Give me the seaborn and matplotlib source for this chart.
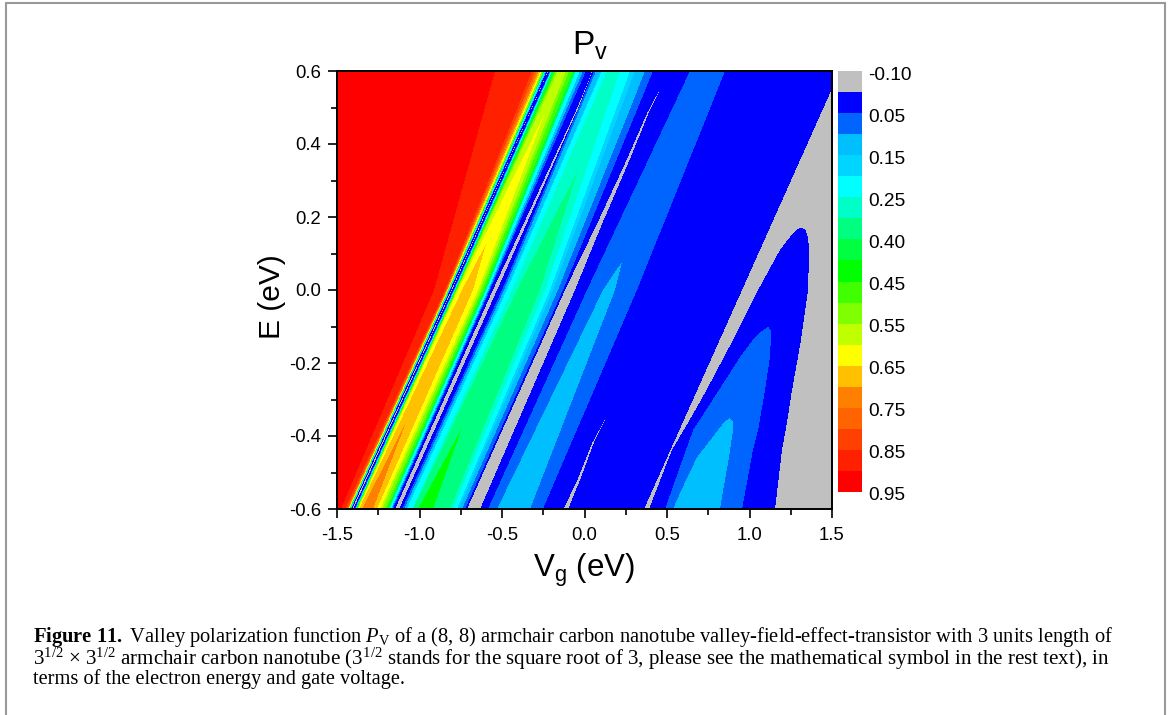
#!/usr/bin/env python
# -*- coding: utf-8 -*-

"""Valley polarization map P_v(Vg, E) drawn as a discrete heatmap with seaborn."""

import numpy as np
import matplotlib
matplotlib.use("Agg")
import matplotlib.pyplot as plt
from matplotlib.colors import ListedColormap
from matplotlib.lines import Line2D
from matplotlib.transforms import ScaledTranslation
import seaborn as sns

# ============ Data ============

VG_TICKS = [-1.5, -1.0, -0.5, 0.0, 0.5, 1.0, 1.5]
VG_MINOR = [-1.25, -0.75, -0.25, 0.25, 0.75, 1.25]
E_TICKS = [-0.6, -0.4, -0.2, 0.0, 0.2, 0.4, 0.6]
E_MINOR = [-0.5, -0.3, -0.1, 0.1, 0.3, 0.5]
CBAR_LABELS = ["-0.10", "0.05", "0.15", "0.25", "0.40", "0.45",
               "0.55", "0.65", "0.75", "0.85", "0.95"]

# one colour per contour level, gray (lowest) to red (highest)
LEVEL_COLORS = ["#C0C0C0", "#0000FF", "#0064FF", "#00BFFF", "#00D5FF",
                "#00FFFF", "#00FFC8", "#00FF80", "#00FF40", "#00FF00",
                "#40FF00", "#80FF00", "#C0FF00", "#FFFF00", "#FFC000",
                "#FF8000", "#FF6400", "#FF4000", "#FF2000", "#FF0000"]

# E rows shared by the straight bands
E_ROWS = [-0.6, 0.0, 0.6]

# contour fronts: everything right of the front has at most this level
FRONT_LEVELS = [18, 17, 16, 15, 14, 13, 11, 8, 5, 3, 1]
FRONT_VG = [[-1.476, -0.912, -0.542],
            [-1.452, -0.845, -0.318],
            [-1.442, -0.839, -0.300],
            [-1.436, -0.836, -0.288],
            [-1.433, -0.833, -0.276],
            [-1.430, -0.830, -0.267],
            [-1.427, -0.827, -0.258],
            [-1.424, -0.824, -0.248],
            [-1.421, -0.821, -0.242],
            [-1.418, -0.818, -0.236],
            [-1.415, -0.815, -0.230]]

# first ridge, between the narrow blue line and the thin gray line
RIDGE1_LEVELS = [2, 3, 5, 8, 10, 11, 12]
RIDGE1_LEFT = [[-1.394, -0.794, -0.209],
               [-1.391, -0.791, -0.206],
               [-1.388, -0.788, -0.203],
               [-1.385, -0.785, -0.197],
               [-1.382, -0.779, -0.179],
               [-1.379, -0.776, -0.173],
               [-1.376, -0.773, -0.161]]
RIDGE1_RIGHT = [[-1.161, -0.573, 0.009],
                [-1.167, -0.579, -0.009],
                [-1.173, -0.585, -0.027],
                [-1.185, -0.597, -0.052],
                [-1.197, -0.609, -0.070],
                [-1.209, -0.621, -0.094],
                [-1.227, -0.633, -0.112]]
YELLOW_E = [-0.6, 0.0, 0.485]
YELLOW_LEFT = [-1.373, -0.767, -0.239]
YELLOW_RIGHT = [-1.239, -0.645, -0.239]
AMBER_E = [-0.6, 0.0, 0.126]
AMBER_LEFT = [-1.367, -0.742, -0.597]
AMBER_RIGHT = [-1.258, -0.676, -0.597]
ORANGE_E = [-0.6, -0.362]
ORANGE_LEFT = [-1.348, -1.082]
ORANGE_RIGHT = [-1.282, -1.082]

# gray hairline inside the narrow blue line
HAIR_LEFT = [-1.409, -0.807, -0.221]
HAIR_RIGHT = [-1.402, -0.803, -0.220]

# thin gray line right of the first ridge
THIN_E = [-0.6, 0.0, 0.501, 0.575, 0.6]
THIN_LEFT = [-1.148, -0.555, -0.042, 0.026, 0.045]
THIN_RIGHT = [-1.124, -0.530, -0.036, 0.028, 0.047]

# second ridge
RIDGE2_LEVELS = [2, 3, 4, 5, 6]
RIDGE2_LEFT = [[-1.106, -0.500, 0.058],
               [-1.094, -0.488, 0.070],
               [-1.082, -0.476, 0.100],
               [-1.076, -0.470, 0.106],
               [-1.045, -0.439, 0.136]]
RIDGE2_RIGHT = [[-0.724, -0.130, 0.415],
                [-0.742, -0.161, 0.367],
                [-0.761, -0.191, 0.306],
                [-0.773, -0.209, 0.276],
                [-0.797, -0.239, 0.215]]
SPRING_E = [-0.6, 0.0, 0.329]
SPRING_LEFT = [-1.039, -0.409, -0.039]
SPRING_RIGHT = [-0.815, -0.270, -0.039]
GREEN_E = [-0.6, -0.378]
GREEN_LEFT = [-1.009, -0.742]
GREEN_RIGHT = [-0.918, -0.742]

# wedge of gray right of the second ridge
WEDGE_E = [-0.6, 0.0, 0.184, 0.356, 0.485, 0.545]
WEDGE_LEFT = [-0.712, -0.118, 0.079, 0.255, 0.380, 0.451]
WEDGE_RIGHT = [-0.633, -0.058, 0.109, 0.273, 0.389, 0.453]

# third ridge
BAND3_LEFT = [-0.585, 0.015, 0.639]
BAND3_RIGHT = [-0.252, 0.318, 0.852]
LOBE3_E = [-0.6, 0.0, 0.077]
LOBE3_LEFT = [-0.530, 0.112, 0.227]
LOBE3_RIGHT = [-0.330, 0.185, 0.227]

# short gray sliver in the blue area
SLIVER_E = [-0.6, -0.512, -0.419, -0.34]
SLIVER_LEFT = [-0.126, -0.035, 0.047, 0.142]
SLIVER_RIGHT = [-0.099, -0.020, 0.056, 0.143]

# gray region at the right and the blue pocket cut into it
GRAY_LEFT = [0.361, 0.955, 1.548]
POCKET_E = [-0.6, -0.438, -0.364, -0.282, -0.137, 0.0, 0.11, 0.145, 0.167, 0.17]
POCKET_LEFT = [0.391, 0.530, 0.627, 0.730, 0.900, 1.052, 1.185, 1.245, 1.288, 1.312]
POCKET_RIGHT = [1.155, 1.197, 1.227, 1.255, 1.312, 1.355, 1.361, 1.355, 1.336, 1.312]
POCKET2_E = [-0.6, -0.438, -0.384, -0.274, -0.184, -0.129, -0.110, -0.101]
POCKET2_LEFT = [0.488, 0.615, 0.658, 0.815, 0.942, 1.033, 1.082, 1.112]
POCKET2_RIGHT = [0.955, 1.021, 1.052, 1.094, 1.124, 1.130, 1.130, 1.112]
POCKET3_E = [-0.6, -0.521, -0.458, -0.384, -0.359, -0.351]
POCKET3_LEFT = [0.536, 0.615, 0.682, 0.809, 0.851, 0.882]
POCKET3_RIGHT = [0.821, 0.851, 0.876, 0.900, 0.900, 0.882]

CAPTION_1 = (r"$\mathbf{Figure\ 11.}$ Valley polarization function $\mathit{P}_{\mathrm{V}}$ of a (8, 8) "
             "armchair carbon nanotube valley-field-effect-transistor with 3 units length of")
CAPTION_2 = (r"3$^{1/2}$ $\times$ 3$^{1/2}$ armchair carbon nanotube (3$^{1/2}$ stands for the square root "
             "of 3, please see the mathematical symbol in the rest text), in")
CAPTION_3 = "terms of the electron energy and gate voltage."

# ============ Configuration ============

W_PX, H_PX = 1168, 715
N_COLS, N_ROWS = 495, 438
VG_MAX = 1.5
E_MAX = 0.6
SANS = "Liberation Sans"
SERIF = "Liberation Serif"

sns.set_theme(style="ticks", rc={
    "axes.edgecolor": "black",
    "xtick.color": "black",
    "ytick.color": "black",
    "text.color": "black",
})
plt.rcParams["font.family"] = [SANS, "DejaVu Sans"]
plt.rcParams["mathtext.fontset"] = "custom"
plt.rcParams["mathtext.rm"] = SERIF
plt.rcParams["mathtext.it"] = SERIF + ":italic"
plt.rcParams["mathtext.bf"] = SERIF + ":bold"
plt.rcParams["mathtext.default"] = "regular"

# ============ Helper Functions ============

VG_GRID = -VG_MAX + (np.arange(N_COLS) + 0.5) * 2 * VG_MAX / N_COLS
E_GRID = E_MAX - (np.arange(N_ROWS) + 0.5) * 2 * E_MAX / N_ROWS


def paint(grid, level, e_rows, left, right):
    """Set one contour level between two boundaries given along E."""
    left_at = np.interp(E_GRID, e_rows, left)[:, None]
    right_at = np.interp(E_GRID, e_rows, right)[:, None]
    inside = ((E_GRID >= e_rows[0]) & (E_GRID <= e_rows[-1]))[:, None]
    grid[(VG_GRID >= left_at) & (VG_GRID <= right_at) & inside] = level


def build_levels():
    """Paint the level map back to front."""
    grid = np.full((N_ROWS, N_COLS), 19)
    far_right = [VG_MAX + 0.1] * len(E_ROWS)

    for level, front in zip(FRONT_LEVELS, FRONT_VG):
        paint(grid, level, E_ROWS, front, far_right)
    paint(grid, 0, E_ROWS, HAIR_LEFT, HAIR_RIGHT)

    for level, left, right in zip(RIDGE1_LEVELS, RIDGE1_LEFT, RIDGE1_RIGHT):
        paint(grid, level, E_ROWS, left, right)
    paint(grid, 13, YELLOW_E, YELLOW_LEFT, YELLOW_RIGHT)
    paint(grid, 14, AMBER_E, AMBER_LEFT, AMBER_RIGHT)
    paint(grid, 15, ORANGE_E, ORANGE_LEFT, ORANGE_RIGHT)
    paint(grid, 0, THIN_E, THIN_LEFT, THIN_RIGHT)

    for level, left, right in zip(RIDGE2_LEVELS, RIDGE2_LEFT, RIDGE2_RIGHT):
        paint(grid, level, E_ROWS, left, right)
    paint(grid, 7, SPRING_E, SPRING_LEFT, SPRING_RIGHT)
    paint(grid, 9, GREEN_E, GREEN_LEFT, GREEN_RIGHT)
    paint(grid, 0, WEDGE_E, WEDGE_LEFT, WEDGE_RIGHT)

    paint(grid, 2, E_ROWS, BAND3_LEFT, BAND3_RIGHT)
    paint(grid, 3, LOBE3_E, LOBE3_LEFT, LOBE3_RIGHT)
    paint(grid, 0, SLIVER_E, SLIVER_LEFT, SLIVER_RIGHT)

    paint(grid, 0, E_ROWS, GRAY_LEFT, far_right)
    paint(grid, 1, POCKET_E, POCKET_LEFT, POCKET_RIGHT)
    paint(grid, 2, POCKET2_E, POCKET2_LEFT, POCKET2_RIGHT)
    paint(grid, 3, POCKET3_E, POCKET3_LEFT, POCKET3_RIGHT)
    return grid


def fig_xy(x_px, y_px):
    """Pixel position in the picture to figure fraction."""
    return x_px / W_PX, 1 - y_px / H_PX


def axes_rect(left, top, right, bottom):
    x0, y0 = fig_xy(left, bottom)
    return [x0, y0, (right - left) / W_PX, (bottom - top) / H_PX]


# ============ Main Execution ============

fig = plt.figure(figsize=(W_PX / 100, H_PX / 100), dpi=100, facecolor="white")
ax = fig.add_axes(axes_rect(337, 71, 832, 509))
cax = fig.add_axes(axes_rect(838, 71, 862, 492))

sns.heatmap(build_levels(), ax=ax, cbar_ax=cax, vmin=-0.5, vmax=19.5,
            cmap=ListedColormap(LEVEL_COLORS), xticklabels=False, yticklabels=False)

# axes ticks are placed on the cell index scale of the heatmap
to_col = lambda v: (np.asarray(v) + VG_MAX) / (2 * VG_MAX) * N_COLS
to_row = lambda e: (E_MAX - np.asarray(e)) / (2 * E_MAX) * N_ROWS
ax.set_xticks(to_col(VG_TICKS))
ax.set_xticklabels([f"{v:.1f}" for v in VG_TICKS], rotation=0, fontsize=13.3)
ax.set_xticks(to_col(VG_MINOR), minor=True)
ax.set_yticks(to_row(E_TICKS))
ax.set_yticklabels([f"{e:.1f}" for e in E_TICKS], rotation=0, fontsize=13.3)
ax.set_yticks(to_row(E_MINOR), minor=True)
ax.tick_params(which="major", length=6.5, width=1.2, pad=5, bottom=True, left=True)
ax.tick_params(axis="x", which="major", pad=6.5)
ax.tick_params(which="minor", length=4.2, width=1.2, bottom=True, left=True)
for spine in ax.spines.values():
    spine.set_visible(True)
    spine.set_linewidth(1.4)
    spine.set_color("black")

cbar = ax.collections[0].colorbar
cbar.set_ticks(np.arange(-0.5, 20, 2), labels=CBAR_LABELS)
cbar.ax.invert_yaxis()
cbar.outline.set_visible(False)
cbar.ax.tick_params(length=0, pad=4.5, labelsize=13.8)
for label in cbar.ax.get_yticklabels():
    label.set_transform(label.get_transform() + ScaledTranslation(0, -2 / 100, fig.dpi_scale_trans))

fig.text(*fig_xy(590, 55), "P$_{v}$", fontsize=24, ha="center", va="baseline")
fig.text(*fig_xy(584, 577), "V$_{g}$ (eV)", fontsize=22.5, ha="center", va="baseline")
fig.text(*fig_xy(272, 297), "E (eV)", fontsize=21.5, rotation=90, ha="center", va="center")

caption_rows = zip([642, 665, 684], [14.8, 15.1, 14.7], [CAPTION_1, CAPTION_2, CAPTION_3])
for y_px, size, line in caption_rows:
    fig.text(*fig_xy(33, y_px), line, family=SERIF, fontsize=size, ha="left", va="baseline")

# page frame around the figure
for xs, ys in [([6, 6], [715, 3]), ([6, 1165], [3, 3]), ([1165, 1165], [3, 715])]:
    fig.add_artist(Line2D(np.array(xs) / W_PX, 1 - np.array(ys) / H_PX,
                          color="#999999", linewidth=1.5))

fig.savefig("out.png", dpi=100)
